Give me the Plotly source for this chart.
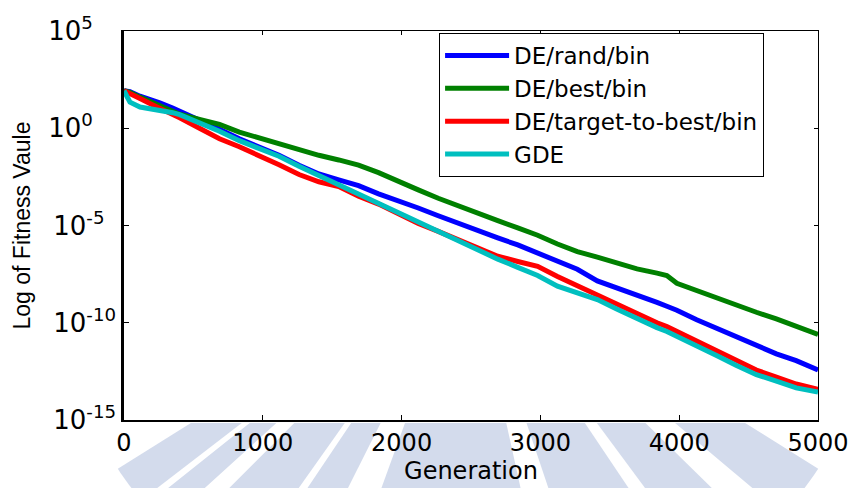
import math
import plotly.graph_objects as go

# Generation axis (shared sample points)
generation = [0, 43, 115, 208, 258, 351, 401, 544, 688, 831, 974, 1117, 1261, 1404, 1547,
              1690, 1834, 1977, 2120, 2264, 2407, 2550, 2693, 2837, 2980, 3123, 3266, 3410,
              3553, 3696, 3840, 3911, 3983, 4126, 4269, 4413, 4556, 4700, 4843, 5000]

# log10 of fitness value for each series
de_rand_bin = [1.93, 1.88, 1.65, 1.44, 1.30, 1.04, 0.88, 0.45, -0.05, -0.54, -0.95, -1.39, -1.90,
               -2.35, -2.65, -2.95, -3.37, -3.72, -4.10, -4.50, -4.90, -5.25, -5.64, -6.00, -6.40,
               -6.85, -7.25, -7.85, -8.20, -8.61, -8.95, -9.15, -9.36, -9.85, -10.30, -10.75,
               -11.19, -11.60, -11.95, -12.43]
de_best_bin = [1.93, 1.85, 1.60, 1.30, 1.15, 0.90, 0.72, 0.45, 0.20, -0.20, -0.50, -0.79, -1.10,
               -1.39, -1.63, -1.90, -2.28, -2.75, -3.17, -3.60, -4.00, -4.38, -4.75, -5.12, -5.50,
               -5.95, -6.34, -6.63, -6.95, -7.23, -7.45, -7.57, -7.97, -8.35, -8.71, -9.10, -9.46,
               -9.80, -10.15, -10.60]
de_ttb_bin = [1.93, 1.80, 1.53, 1.20, 1.04, 0.75, 0.54, 0.00, -0.54, -0.95, -1.39, -1.88, -2.38,
              -2.75, -3.00, -3.50, -3.90, -4.40, -4.90, -5.30, -5.74, -6.15, -6.58, -6.85, -7.10,
              -7.62, -8.10, -8.56, -9.05, -9.55, -10.00, -10.20, -10.45, -10.95, -11.44, -11.95,
              -12.43, -12.80, -13.15, -13.42]
gde = [1.93, 1.34, 1.09, 0.98, 0.94, 0.80, 0.70, 0.30, -0.15, -0.64, -1.05, -1.44, -1.95,
       -2.43, -2.92, -3.42, -3.90, -4.35, -4.85, -5.35, -5.84, -6.30, -6.73, -7.15, -7.57,
       -8.12, -8.45, -8.81, -9.30, -9.80, -10.25, -10.45, -10.69, -11.20, -11.68, -12.20,
       -12.67, -13.00, -13.35, -13.56]

series_names = ["DE/rand/bin", "DE/best/bin", "DE/target-to-best/bin", "GDE"]
series_colors = ["#0000FF", "#008000", "#FF0000", "#00BFBF"]
series_logs = [de_rand_bin, de_best_bin, de_ttb_bin, gde]

x_ticks = [0, 1000, 2000, 3000, 4000, 5000]
y_exponents = [-15, -10, -5, 0, 5]
# invisible padding so the exponent labels line up on the left as in the original
y_label_pad = {5: 4, 0: 4, -5: 2, -10: 0, -15: 0}

W, H = 861, 488
L, R, T, B = 124, 39, 24, 60
PW, PH = W - L - R, H - T - B

fig = go.Figure()
for name, color, logs in zip(series_names, series_colors, series_logs):
    fig.add_trace(go.Scatter(
        x=generation, y=[10 ** v for v in logs], mode="lines", name=name,
        line=dict(color=color, width=5),
    ))
# empty helper trace so the thin top/right frame axes are drawn
fig.add_trace(go.Scatter(x=[None], y=[None], xaxis="x2", yaxis="y2", mode="lines",
                         showlegend=False, hoverinfo="skip"))


# ---- faint background watermark below the axes (decoration) ----
def to_paper(px, py):
    return (px - L) / PW, (H - B - py) / PH


def clip_below(poly, ymin):
    out = []
    n = len(poly)
    for i in range(n):
        cx, cy = poly[i]
        px_, py_ = poly[i - 1]
        cin, pin = cy >= ymin, py_ >= ymin
        if cin:
            if not pin:
                t = (ymin - py_) / (cy - py_)
                out.append((px_ + t * (cx - px_), ymin))
            out.append((cx, cy))
        elif pin:
            t = (ymin - py_) / (cy - py_)
            out.append((px_ + t * (cx - px_), ymin))
    return out


wm_center = (470, 250)
wm_outer = 420
wm_spokes = [(141.5, 147), (136.8, 140.5), (124.4, 134), (115.9, 123), (78, 109.3),
             (57, 72), (45.4, 54.4), (33, 41)]
shapes = []
for a1, a2 in wm_spokes:
    poly = [(wm_center[0] + 150 * math.cos(math.radians(a1)),
             wm_center[1] + 150 * math.sin(math.radians(a1)))]
    for k in range(9):
        a = a1 + (a2 - a1) * k / 8
        poly.append((wm_center[0] + wm_outer * math.cos(math.radians(a)),
                     wm_center[1] + wm_outer * math.sin(math.radians(a))))
    poly.append((wm_center[0] + 150 * math.cos(math.radians(a2)),
                 wm_center[1] + 150 * math.sin(math.radians(a2))))
    poly = clip_below(poly, 431)
    if len(poly) < 3:
        continue
    path = "M " + " L ".join("%.4f,%.4f" % to_paper(x, y) for x, y in poly) + " Z"
    shapes.append(dict(type="path", xref="paper", yref="paper", path=path,
                       fillcolor="#d3dbec", line=dict(width=0), layer="below"))

fig.update_layout(
    width=W, height=H,
    margin=dict(l=L, r=R, t=T, b=B),
    paper_bgcolor="white", plot_bgcolor="white",
    font=dict(family="DejaVu Sans", color="black"),
    showlegend=True,
    shapes=shapes,
    legend=dict(
        x=0.454, y=0.995, xanchor="left", yanchor="top",
        bgcolor="white", bordercolor="black", borderwidth=1,
        font=dict(family="DejaVu Sans", size=23, color="black"),
        tracegroupgap=0, itemwidth=64,
    ),
    xaxis=dict(
        range=[0, 5000], tickvals=x_ticks, ticktext=[str(t) for t in x_ticks],
        ticks="inside", ticklen=5, tickcolor="black", showgrid=False, zeroline=False,
        showline=True, linecolor="black", linewidth=2, mirror=False,
        tickfont=dict(family="DejaVu Sans", size=24, color="black"),
        title=dict(text="Generation", font=dict(family="DejaVu Sans", size=24, color="black"),
                   standoff=2),
    ),
    yaxis=dict(
        type="log", range=[-15, 5],
        tickvals=[10.0 ** e for e in y_exponents],
        ticktext=["10<sup>%d%s</sup>" % (e, "\u00a0" * y_label_pad[e]) for e in y_exponents],
        ticks="inside", ticklen=5, tickcolor="black", showgrid=False, zeroline=False,
        showline=True, linecolor="black", linewidth=2.5, mirror=False,
        tickfont=dict(family="DejaVu Sans", size=26, color="black"),
        title=dict(text="Log of Fitness Vaule",
                   font=dict(family="Liberation Sans", size=23, color="black"), standoff=12),
    ),
    xaxis2=dict(overlaying="x", anchor="y2", side="top", range=[0, 5000], tickvals=x_ticks,
                showticklabels=False, ticks="inside", ticklen=4, tickcolor="black",
                showline=True, linecolor="black", linewidth=1, showgrid=False, zeroline=False),
    yaxis2=dict(overlaying="y", anchor="x2", side="right", type="log", range=[-15, 5],
                tickvals=[10.0 ** e for e in y_exponents], showticklabels=False,
                ticks="inside", ticklen=4, tickcolor="black",
                showline=True, linecolor="black", linewidth=1, showgrid=False, zeroline=False),
)

fig.write_html("out.html")
